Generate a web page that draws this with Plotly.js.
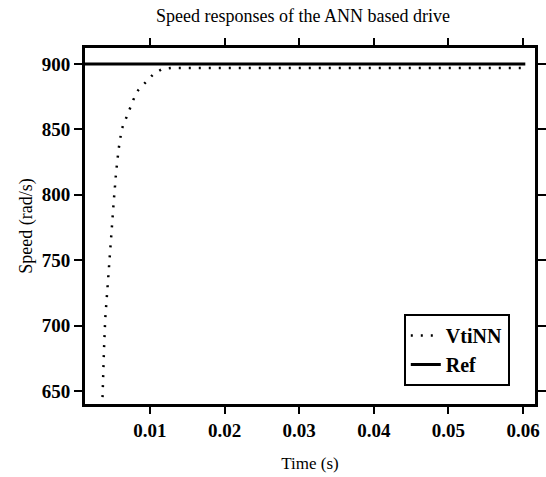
<!DOCTYPE html>
<html>
<head>
<meta charset="utf-8">
<script src="https://cdn.plot.ly/plotly-3.0.1.min.js"></script>
<style>html,body{margin:0;padding:0;background:#fff;}#chart{width:546px;height:477px;}</style>
</head>
<body>
<div id="chart"></div>
<script>
// VtiNN speed response
var vtiTime = [0.00358, 0.00362, 0.00372, 0.00385, 0.00402, 0.00412, 0.00445, 0.00479, 0.00515, 0.00549, 0.00582, 0.00622, 0.00675, 0.00729, 0.00782, 0.00844, 0.00947, 0.01044, 0.0116, 0.01303, 0.02, 0.03, 0.04, 0.05, 0.0602];
var vtiSpeed = [630, 641, 665, 681, 705, 713, 742, 771, 794, 818, 835, 850, 858, 865, 873, 880, 886, 892, 896, 897, 897, 897, 897, 897, 897];
// Reference speed
var refTime = [0, 0.0603];
var refSpeed = [900, 900];
var xTicks = [0.01, 0.02, 0.03, 0.04, 0.05, 0.06];
var xTickText = ['0.01', '0.02', '0.03', '0.04', '0.05', '0.06'];
var yTicks = [650, 700, 750, 800, 850, 900];

var serif = 'Liberation Serif, Times New Roman, serif';
var traces = [
  {x: vtiTime, y: vtiSpeed, mode: 'lines', name: 'VtiNN',
   line: {color: '#000', width: 2.5, dash: '2px,8px'}},
  {x: refTime, y: refSpeed, mode: 'lines', name: 'Ref',
   line: {color: '#000', width: 3}}
];
var layout = {
  width: 546, height: 477,
  margin: {l: 85, r: 11, t: 48, b: 73},
  paper_bgcolor: '#fff', plot_bgcolor: '#fff',
  showlegend: true,
  title: {text: 'Speed responses of the ANN based drive', x: 0.555, xanchor: 'center', y: 0.968, yanchor: 'middle',
          font: {family: serif, size: 18, color: '#000'}},
  xaxis: {range: [0.00131, 0.0616], tickvals: xTicks, ticktext: xTickText,
          showgrid: false, zeroline: false, showline: true, linecolor: '#000', linewidth: 3,
          mirror: 'allticks', ticks: 'outside', ticklen: 7, tickwidth: 2, tickcolor: '#000',
          tickfont: {family: serif, size: 19, color: '#000', weight: 'bold'},
          title: {text: 'Time (s)', font: {family: serif, size: 17, color: '#000'}, standoff: 18}},
  yaxis: {range: [640, 912.2], tickvals: yTicks,
          showgrid: false, zeroline: false, showline: true, linecolor: '#000', linewidth: 3,
          mirror: 'allticks', ticks: 'outside', ticklen: 8, tickwidth: 2, tickcolor: '#000',
          tickfont: {family: serif, size: 19, color: '#000', weight: 'bold'},
          title: {text: 'Speed (rad/s)', font: {family: serif, size: 18, color: '#000'}, standoff: 5}},
  legend: {x: 0.944, y: 0.152, xanchor: 'right', yanchor: 'middle',
           bgcolor: '#fff', bordercolor: '#000', borderwidth: 2,
           font: {family: serif, size: 20, color: '#000', weight: 'bold'},
           tracegroupgap: 0, itemwidth: 30}
};
Plotly.newPlot('chart', traces, layout, {displayModeBar: false, staticPlot: true});
</script>
</body>
</html>
